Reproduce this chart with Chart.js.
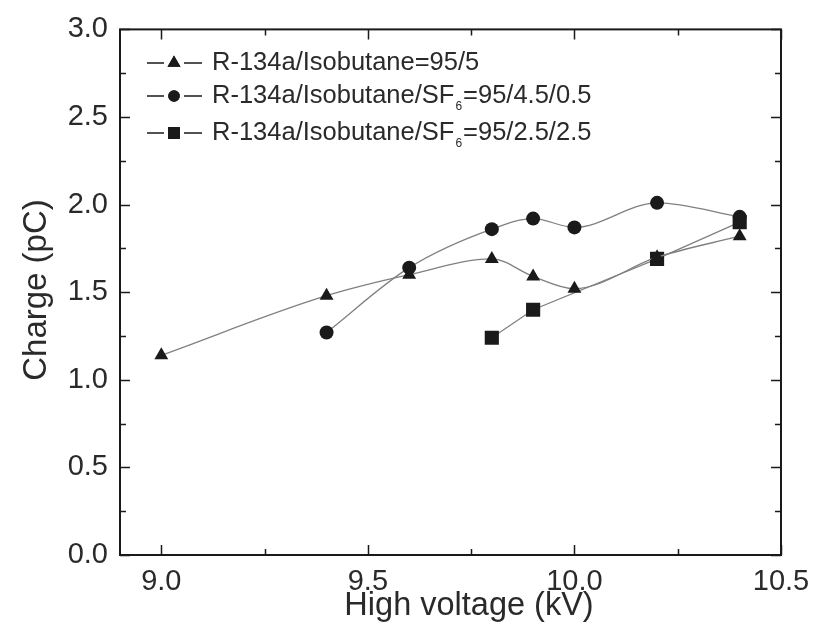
<!DOCTYPE html>
<html>
<head>
<meta charset="utf-8">
<script src="https://cdn.jsdelivr.net/npm/chart.js@4.4.1/dist/chart.umd.min.js"></script>
<style>
    html, body { margin: 0; padding: 0; background: #fff; }
    #wrap { width: 821px; height: 625px; }
</style>
</head>
<body>
<div id="wrap"><canvas id="chart" width="821" height="625"></canvas></div>
<script>
// Data
const voltTriangle = [9.0, 9.4, 9.6, 9.8, 9.9, 10.0, 10.2, 10.4];
const chargeTriangle = [1.14, 1.48, 1.60, 1.69, 1.59, 1.52, 1.70, 1.82];

const voltCircle = [9.4, 9.6, 9.8, 9.9, 10.0, 10.2, 10.4];
const chargeCircle = [1.27, 1.64, 1.86, 1.92, 1.87, 2.01, 1.93];

const voltSquare = [9.8, 9.9, 10.2, 10.4];
const chargeSquare = [1.24, 1.40, 1.69, 1.90];

const xTickValues = [9.0, 9.5, 10.0, 10.5];
const legendLabels = [
    { main: 'R-134a/Isobutane=95/5', sub: null, rest: '' },
    { main: 'R-134a/Isobutane/SF', sub: '6', rest: '=95/4.5/0.5' },
    { main: 'R-134a/Isobutane/SF', sub: '6', rest: '=95/2.5/2.5' }
];
const legendStyles = ['triangle', 'circle', 'rect'];

const FONT = '"Liberation Sans", Arial, Helvetica, sans-serif';
const LINE_COLOR = '#808080';
const TEXT_COLOR = '#2a2a2a';

const toPoints = (xs, ys) => xs.map((x, i) => ({ x, y: ys[i] }));

// Frame, inward ticks on all sides, axis titles, legend
const framePlugin = {
    id: 'frame',
    afterDraw(chart) {
        const { ctx, chartArea: a, scales } = chart;
        const xs = scales.x, ys = scales.y;
        ctx.save();
        ctx.strokeStyle = '#1a1a1a';
        ctx.lineWidth = 2;
        ctx.strokeRect(a.left, a.top, a.right - a.left, a.bottom - a.top);

        ctx.lineWidth = 1.5;
        ctx.beginPath();
        for (let v = 9.0; v <= 10.5001; v += 0.25) {
            const px = Math.round(xs.getPixelForValue(v)) + 0.5;
            const len = Math.abs(v * 2 - Math.round(v * 2)) < 1e-6 ? 10 : 6;
            ctx.moveTo(px, a.bottom); ctx.lineTo(px, a.bottom - len);
            ctx.moveTo(px, a.top); ctx.lineTo(px, a.top + len);
        }
        for (let v = 0; v <= 3.0001; v += 0.25) {
            const py = Math.round(ys.getPixelForValue(v)) + 0.5;
            const len = Math.abs(v * 2 - Math.round(v * 2)) < 1e-6 ? 10 : 6;
            ctx.moveTo(a.left, py); ctx.lineTo(a.left + len, py);
            ctx.moveTo(a.right, py); ctx.lineTo(a.right - len, py);
        }
        ctx.stroke();

        // axis titles
        ctx.fillStyle = TEXT_COLOR;
        ctx.font = '32.5px ' + FONT;
        ctx.textAlign = 'center';
        ctx.textBaseline = 'middle';
        ctx.fillText('High voltage (kV)', 469, 606);
        ctx.save();
        ctx.translate(37, 290);
        ctx.rotate(-Math.PI / 2);
        ctx.font = '33px ' + FONT;
        ctx.fillText('Charge (pC)', 0, 0);
        ctx.restore();

        // legend
        const rows = [63, 96, 133];
        legendLabels.forEach((lab, i) => {
            const y = rows[i];
            ctx.strokeStyle = '#1a1a1a';
            ctx.lineWidth = 1.5;
            ctx.beginPath();
            ctx.moveTo(147, y); ctx.lineTo(164, y);
            ctx.moveTo(184, y); ctx.lineTo(202, y);
            ctx.stroke();
            ctx.fillStyle = '#1a1a1a';
            const r = legendStyles[i] === 'triangle' ? 7.5 : legendStyles[i] === 'rect' ? 8.5 : 5.8;
            Chart.helpers.drawPoint(ctx, { pointStyle: legendStyles[i], radius: r, borderWidth: 0 }, 174, y);
            ctx.fill();

            ctx.fillStyle = TEXT_COLOR;
            ctx.textAlign = 'left';
            ctx.textBaseline = 'middle';
            ctx.font = '25.5px ' + FONT;
            ctx.fillText(lab.main, 212, y);
            let x = 212 + ctx.measureText(lab.main).width;
            if (lab.sub) {
                ctx.font = '12px ' + FONT;
                ctx.fillText(lab.sub, x + 1, y + 11);
                x += ctx.measureText(lab.sub).width + 2;
                ctx.font = '25.5px ' + FONT;
                ctx.fillText(lab.rest, x, y);
            }
        });
        ctx.restore();
    }
};

const seriesStyle = (style, radius, curved) => ({
    showLine: true,
    borderColor: LINE_COLOR,
    borderWidth: 1.3,
    backgroundColor: '#1a1a1a',
    pointBackgroundColor: '#1a1a1a',
    pointBorderColor: '#1a1a1a',
    pointBorderWidth: 0,
    pointStyle: style,
    pointRadius: radius,
    tension: curved ? 0.4 : 0,
    cubicInterpolationMode: curved ? 'monotone' : 'default'
});

new Chart(document.getElementById('chart'), {
    type: 'scatter',
    data: {
        datasets: [
            { label: 'triangle', data: toPoints(voltTriangle, chargeTriangle), ...seriesStyle('triangle', 8, true) },
            { label: 'circle', data: toPoints(voltCircle, chargeCircle), ...seriesStyle('circle', 7, true) },
            { label: 'square', data: toPoints(voltSquare, chargeSquare), ...seriesStyle('rect', 10, false) }
        ]
    },
    options: {
        responsive: false,
        animation: false,
        layout: { padding: { top: 25, right: 40, left: 0, bottom: 0 } },
        plugins: {
            legend: { display: false },
            tooltip: { enabled: false }
        },
        scales: {
            x: {
                type: 'linear',
                min: 8.9,
                max: 10.5,
                grid: { display: false, drawTicks: false },
                border: { display: false },
                afterBuildTicks: (scale) => {
                    scale.ticks = xTickValues.map(v => ({ value: v }));
                },
                afterFit: (scale) => { scale.height = 70; },
                ticks: {
                    padding: 10,
                    color: TEXT_COLOR,
                    font: { family: FONT, size: 29 },
                    callback: (v) => Number(v).toFixed(1)
                }
            },
            y: {
                min: 0,
                max: 3,
                grid: { display: false, drawTicks: false },
                border: { display: false },
                afterFit: (scale) => { scale.width = 120; },
                ticks: {
                    stepSize: 0.5,
                    padding: 12,
                    color: TEXT_COLOR,
                    font: { family: FONT, size: 29 },
                    callback: (v) => Number(v).toFixed(1)
                }
            }
        }
    },
    plugins: [framePlugin]
});
</script>
</body>
</html>
